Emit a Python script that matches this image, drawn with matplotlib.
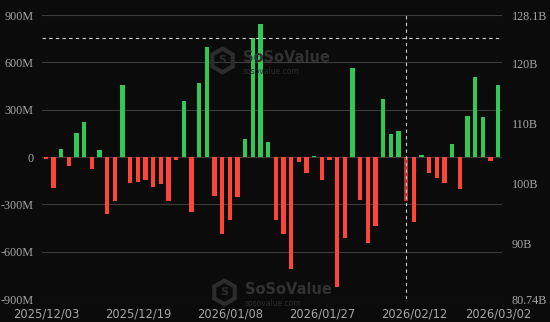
import matplotlib
matplotlib.use("Agg")
import matplotlib.pyplot as plt
import numpy as np
import pandas as pd

# daily net flow, millions USD
flows = [-12, -196, 53, -60, 149, 221, -77, 47, -360, -279,
         457, -164, -160, -143, -189, -174, -277, -17, 353, -349,
         470, 698, -245, -489, -402, -251, 113, 755, 845, 96,
         -398, -485, -713, -32, -102, 4, -147, -17, -821, -513,
         562, -274, -547, -436, 370, 145, 164, -277, -411, 15,
         -104, -132, -166, 85, -204, 257, 506, 253, -26, 457]

holidays = ["2025-12-25", "2026-01-01", "2026-01-19", "2026-02-16"]
dates = [d for d in pd.bdate_range("2025-12-03", "2026-03-02")
         if d.strftime("%Y-%m-%d") not in holidays]
date_labels = [d.strftime("%Y/%m/%d") for d in dates]
tick_idx = [0, 12, 24, 36, 48, 59]

left_ticks = [-900, -600, -300, 0, 300, 600, 900]
left_labels = ["-900M", "-600M", "-300M", "0", "300M", "600M", "900M"]
right_ticks = [80.74, 90, 100, 110, 120, 128.1]
right_labels = ["80.74B", "90B", "100B", "110B", "120B", "128.1B"]

hover_idx = 47
hover_y = 755

BG = "#0b0b0b"
GREEN = "#33c758"
RED = "#fb4639"
TXT = "#a6a6a6"
WM = "#2c2c2c"


def main():
    fig = plt.figure(figsize=(5.5, 3.22), dpi=100, facecolor=BG)
    ax = fig.add_axes([42 / 550, 23 / 322, 460 / 550, 284 / 322])
    ax.set_facecolor(BG)

    x = np.arange(len(flows))
    colors = [GREEN if v >= 0 else RED for v in flows]
    bars = ax.bar(x, flows, width=0.6, color=colors, linewidth=0, zorder=3)
    bars[hover_idx].set_alpha(0.72)

    ax.set_xlim(-0.5, len(flows) - 0.5)
    ax.set_ylim(-900, 900)
    ax.set_yticks(left_ticks)
    ax.set_yticklabels(left_labels, family="Liberation Serif", fontsize=8.7, color=TXT)
    ax.set_xticks(tick_idx)
    ax.set_xticklabels([date_labels[i] for i in tick_idx], fontsize=8.3, color=TXT)
    ax.tick_params(axis="y", length=0, pad=6)
    ax.tick_params(axis="x", length=0, pad=6)
    ax.grid(axis="y", color="#3c3c3c", linewidth=0.8, zorder=0)
    for s in ax.spines.values():
        s.set_visible(False)

    ax2 = ax.twinx()
    ax2.set_ylim(80.74, 128.1)
    ax2.set_yticks(right_ticks)
    ax2.set_yticklabels(right_labels, family="Liberation Serif", fontsize=8.7, color=TXT)
    ax2.tick_params(axis="y", length=0, pad=7)
    for s in ax2.spines.values():
        s.set_visible(False)

    # crosshair
    ax.axvline(hover_idx, color="#d0d0d0", linewidth=0.8, dashes=(3, 3), zorder=4)
    ax.axhline(hover_y, color="#d0d0d0", linewidth=0.8, dashes=(3, 3), zorder=4)

    # watermark
    for (lx, ly) in [(222 / 550, 1 - 60 / 322), (224 / 550, 1 - 292 / 322)]:
        fig.add_artist(plt.Line2D([lx], [ly], marker="h", markersize=17, mfc="none",
                                  mec=WM, mew=3, transform=fig.transFigure, zorder=1))
        fig.text(lx, ly, "S", fontsize=8, weight="bold", color=WM,
                 ha="center", va="center", zorder=1)
        fig.text(lx + 21 / 550, ly + 2 / 322, "SoSoValue", fontsize=10.5, weight="bold",
                 color="#313131", ha="left", va="center", zorder=1)
        fig.text(lx + 21 / 550, ly - 12 / 322, "sosovalue.com", fontsize=5.5,
                 color=WM, ha="left", va="center", zorder=1)

    fig.savefig("out.png", facecolor=BG)


if __name__ == '__main__':
    main()
